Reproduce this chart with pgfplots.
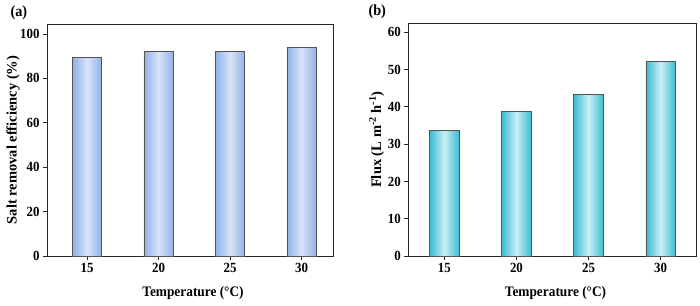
\documentclass[border=0pt]{standalone}
\usepackage{fontspec}
\setmainfont{Liberation Serif}
\newfontfamily\figfont{Liberation Serif}[FakeStretch=0.92]
\usepackage{pgfplots}
\pgfplotsset{compat=1.18}
\definecolor{bEdge}{RGB}{146,176,232}
\definecolor{bMid}{RGB}{216,228,248}
\definecolor{cEdge}{RGB}{58,188,210}
\definecolor{cMid}{RGB}{202,238,243}
\definecolor{barline}{RGB}{85,85,85}
\pgfplotsset{
  mystyle/.style={scale only axis,
    axis line style={line width=0.9pt, black!85},
    tick align=outside, major tick length=4pt,
    xtick pos=bottom, ytick pos=left,
    xtick={1,2,3,4}, xticklabels={15,20,25,30},
    tick label style={font=\figfont\fontsize{14}{16}\selectfont\bfseries},
    /pgf/number format/assume math mode=true,
    every tick/.style={black!85, line width=0.9pt},
    ymin=0,
    xlabel style={font=\figfont\fontsize{14.5}{17}\selectfont\bfseries,
      at={(axis description cs:0.5,0)}, anchor=center, yshift=-37pt, xshift=3pt},
    ylabel style={font=\fontsize{14.5}{17}\selectfont\bfseries},
  },
  bbar/.style={ybar, bar width=0.41, bar shift=0pt, draw=barline, line width=0.6pt,
    left color=bEdge, right color=bEdge, middle color=bMid},
  cbar/.style={ybar, bar width=0.41, bar shift=0pt, draw=barline, line width=0.6pt,
    left color=cEdge, right color=cEdge, middle color=cMid},
}
\begin{document}
\begin{tikzpicture}
\useasboundingbox (-47pt,-49pt) rectangle (653pt,256pt);
\begin{axis}[mystyle, at={(0pt,0pt)}, width=286pt, height=232pt,
  xmin=0.44, xmax=4.44, ymax=104.5, ytick={0,20,40,60,80,100},
  xlabel={Temperature (°C)}, ylabel={Salt removal efficiency (\%)},
  ylabel style={at={(axis description cs:-0.119,0.5)}, anchor=center}]
\addplot[bbar] coordinates {(1,89.5)};
\addplot[bbar] coordinates {(2,92.3)};
\addplot[bbar] coordinates {(3,92.0)};
\addplot[bbar] coordinates {(4,94.1)};
\end{axis}
\begin{axis}[mystyle, at={(361.3pt,0pt)}, width=288.4pt, height=232.7pt,
  xmin=0.5, xmax=4.5, ymax=62.4, ytick={0,10,20,30,40,50,60},
  xlabel={Temperature (°C)}, ylabel={Flux (L m\textsuperscript{-2} h\textsuperscript{-1})},
  ylabel style={at={(axis description cs:-0.11,0.5)}, anchor=center}]
\addplot[cbar] coordinates {(1,33.6)};
\addplot[cbar] coordinates {(2,38.7)};
\addplot[cbar] coordinates {(3,43.4)};
\addplot[cbar] coordinates {(4,52.2)};
\end{axis}
\node[anchor=west, font=\figfont\fontsize{15.5}{17}\selectfont\bfseries] at (-40pt,243pt) {(a)};
\node[anchor=west, font=\figfont\fontsize{15.5}{17}\selectfont\bfseries] at (318pt,244pt) {(b)};
\end{tikzpicture}
\end{document}
